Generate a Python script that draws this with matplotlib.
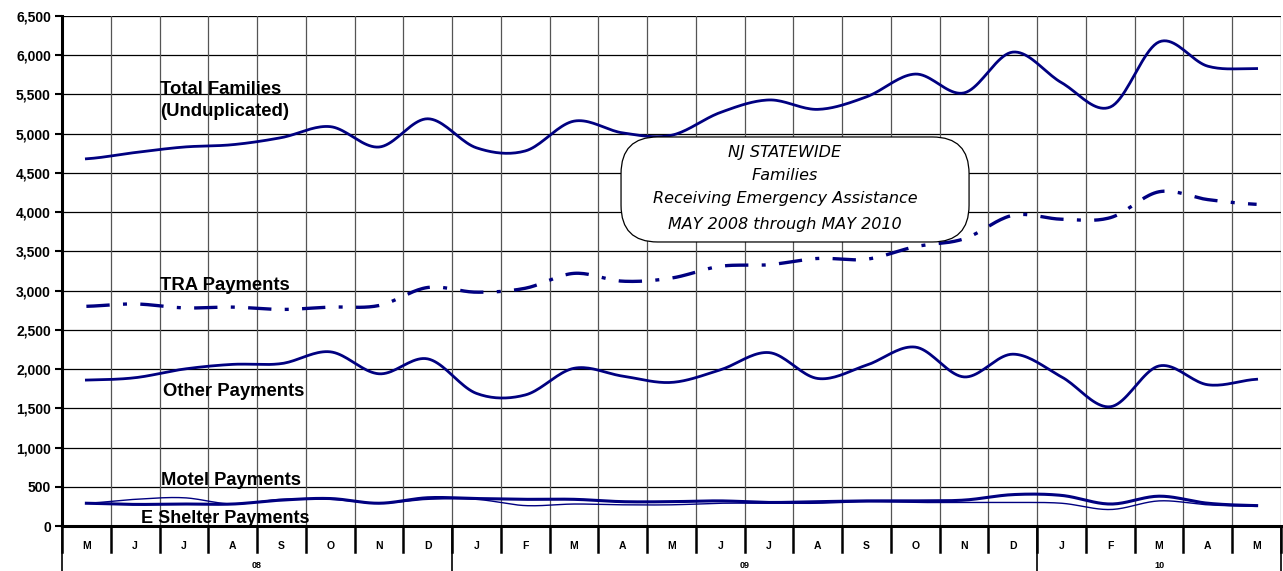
import numpy as np
import matplotlib
matplotlib.use("Agg")
import matplotlib.pyplot as plt
from matplotlib.patches import FancyBboxPatch

months = ["M", "J", "J", "A", "S", "O", "N", "D",
          "J", "F", "M", "A", "M", "J", "J", "A", "S", "O", "N", "D",
          "J", "F", "M", "A", "M"]
years = ["08", "09", "10"]
year_spans = [(0, 7), (8, 19), (20, 24)]

total_families = [4680, 4760, 4830, 4860, 4950, 5090, 4830, 5190,
                  4820, 4780, 5160, 5010, 4980, 5270, 5430, 5310, 5470, 5760, 5520, 6040,
                  5650, 5340, 6170, 5860, 5830]
tra_payments = [2800, 2830, 2780, 2790, 2760, 2790, 2810, 3040,
                2980, 3030, 3220, 3120, 3160, 3310, 3330, 3410, 3400, 3560, 3660, 3960,
                3910, 3930, 4260, 4160, 4100]
other_payments = [1860, 1890, 2000, 2060, 2070, 2220, 1940, 2130,
                  1690, 1670, 2010, 1910, 1830, 1990, 2210, 1880, 2050, 2280, 1900, 2190,
                  1900, 1520, 2040, 1800, 1870]
motel_payments = [290, 275, 280, 280, 330, 350, 290, 360,
                  350, 340, 340, 310, 310, 320, 300, 310, 320, 320, 330, 400,
                  390, 280, 380, 290, 260]
eshelter_payments = [290, 340, 360, 280, 340, 340, 290, 340,
                     340, 260, 280, 270, 270, 290, 290, 290, 310, 300, 300, 300,
                     290, 210, 320, 270, 250]

NAVY = "#000080"


def smooth(y, n=20):
    """Catmull-Rom smoothing similar to Excel's smoothed lines."""
    y = np.asarray(y, float)
    x = np.arange(len(y), dtype=float)
    xs, ys = [], []
    for i in range(len(y) - 1):
        p0 = y[i - 1] if i > 0 else y[i]
        p1, p2 = y[i], y[i + 1]
        p3 = y[i + 2] if i + 2 < len(y) else y[i + 1]
        t = np.linspace(0, 1, n, endpoint=False)
        yy = 0.5 * ((2 * p1) + (-p0 + p2) * t + (2 * p0 - 5 * p1 + 4 * p2 - p3) * t ** 2
                    + (-p0 + 3 * p1 - 3 * p2 + p3) * t ** 3)
        xs.append(x[i] + t)
        ys.append(yy)
    xs.append([x[-1]])
    ys.append([y[-1]])
    return np.concatenate(xs), np.concatenate(ys)


plt.rcParams["font.family"] = ["Liberation Sans", "DejaVu Sans"]

fig = plt.figure(figsize=(12.83, 5.71), dpi=100)
ax = fig.add_axes([62 / 1283, 1 - 526 / 571, 1219 / 1283, 510 / 571])

n = len(months)
ax.set_xlim(-0.5, n - 0.5)
ax.set_ylim(0, 6500)

# grid
for v in range(0, 6501, 500):
    ax.axhline(v, color="black", lw=0.9, zorder=1)
for i in range(n + 1):
    ax.axvline(i - 0.5, color="#555555", lw=0.9, zorder=1)

# series
x, y = smooth(total_families)
ax.plot(x, y, color=NAVY, lw=2.0, zorder=3)
x, y = smooth(tra_payments)
ax.plot(x, y, color=NAVY, lw=2.4, zorder=3, dashes=(7, 4, 1.2, 4))
x, y = smooth(other_payments)
ax.plot(x, y, color=NAVY, lw=2.0, zorder=3)
x, y = smooth(motel_payments)
ax.plot(x, y, color=NAVY, lw=2.2, zorder=3)
x, y = smooth(eshelter_payments)
ax.plot(x, y, color=NAVY, lw=1.0, zorder=3)

# spines
for s in ["top", "right"]:
    ax.spines[s].set_visible(False)
ax.spines["left"].set_linewidth(2.2)
ax.spines["bottom"].set_linewidth(2.2)

ax.set_yticks(range(0, 6501, 500))
ax.set_yticklabels([f"{v:,}" for v in range(0, 6501, 500)], fontsize=10, fontweight="bold")
ax.tick_params(axis="y", length=5, width=1.5, pad=3)
ax.set_xticks([])

# category axis boxes
tr = ax.get_xaxis_transform()
for i in range(n + 1):
    ax.plot([i - 0.5, i - 0.5], [0, -0.051], transform=tr, color="black",
            lw=1.8, clip_on=False, zorder=5)
for i, m in enumerate(months):
    ax.text(i, -0.04, m, transform=tr, ha="center", va="center",
            fontsize=7.5, fontweight="bold")
for (a, b), yl in zip(year_spans, years):
    ax.plot([a - 0.5, a - 0.5], [0, -0.1], transform=tr, color="black",
            lw=1.2, clip_on=False, zorder=5)
    ax.text((a + b) / 2, -0.077, yl, transform=tr, ha="center", va="center",
            fontsize=6.5, fontweight="bold")
ax.plot([n - 0.5, n - 0.5], [0, -0.1], transform=tr, color="black",
        lw=1.2, clip_on=False, zorder=5)

# series labels
ax.text(1.52, 5420, "Total Families\n(Unduplicated)", fontsize=13.3, fontweight="bold",
        ha="left", va="center", linespacing=1.38)
ax.text(1.52, 3065, "TRA Payments", fontsize=13.3, fontweight="bold", ha="left", va="center")
ax.text(1.58, 1715, "Other Payments", fontsize=13.3, fontweight="bold", ha="left", va="center")
ax.text(1.54, 580, "Motel Payments", fontsize=13.2, fontweight="bold", ha="left", va="center")
ax.text(1.13, 100, "E Shelter Payments", fontsize=13.0, fontweight="bold", ha="left", va="center")

# title box
box = FancyBboxPatch((0.4586, 0.5569), 0.2855, 0.2059, transform=ax.transAxes,
                     boxstyle="round,pad=0,rounding_size=0.03", mutation_aspect=2.4,
                     facecolor="white", edgecolor="black", lw=0.9, zorder=6)
ax.add_patch(box)
lines = ["NJ STATEWIDE", "Families", "Receiving Emergency Assistance", "MAY 2008 through MAY 2010"]
ys = [153, 176, 198, 224]
for t, yy in zip(lines, ys):
    ax.text(785, 571 - yy, t, transform=None, fontsize=11.5, style="italic",
            family="DejaVu Sans", ha="center", va="center", zorder=7)

fig.savefig("out.png", dpi=100)
